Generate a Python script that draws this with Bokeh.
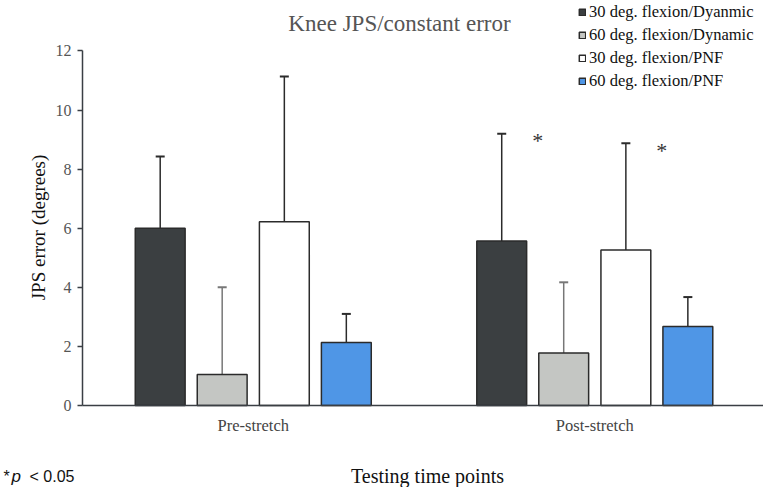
import math
from bokeh.plotting import figure
from bokeh.models import (ColumnDataSource, Range1d, Legend, LegendItem, Label,
                          FixedTicker, Whisker)
from bokeh.core.properties import value
from bokeh.embed import file_html
from bokeh.resources import INLINE

# ---- data ----
groups = ["Pre-stretch", "Post-stretch"]
series = ["30 deg. flexion/Dyanmic", "60 deg. flexion/Dynamic",
          "30 deg. flexion/PNF", "60 deg. flexion/PNF"]
means_pre = [6.0, 1.05, 6.22, 2.13]
means_post = [5.57, 1.78, 5.26, 2.67]
upper_pre = [8.43, 4.0, 11.14, 3.1]
upper_post = [9.2, 4.17, 8.88, 3.67]
sig_group = [1, 1]          # index into groups
sig_series = [0, 2]         # index into series
yticks = [0, 2, 4, 6, 8, 10, 12]

colors = ["#3b3f41", "#c4c6c3", "#ffffff", "#4f96e6"]
whisker_colors = ["#2b2b2b", "#777777", "#2b2b2b", "#2b2b2b"]
SERIF = "Liberation Serif"
SANS = "Liberation Sans"

W, H = 763, 487
p = figure(width=W, height=H, output_backend="svg", toolbar_location=None,
           x_range=Range1d(-0.2401, 1.994), y_range=Range1d(-2.776, 13.709),
           min_border=0)
p.outline_line_color = None
p.xgrid.grid_line_color = None
p.ygrid.grid_line_color = None

offsets = [-0.2725, -0.091, 0.091, 0.2725]
bar_w = 0.146
centers = [0.5, 1.5]
means = [means_pre, means_post]
uppers = [upper_pre, upper_post]

renderers = []
for si, name in enumerate(series):
    xs = [centers[g] + offsets[si] for g in range(len(groups))]
    tops = [means[g][si] for g in range(len(groups))]
    ups = [uppers[g][si] for g in range(len(groups))]
    src = ColumnDataSource(dict(x=xs, top=tops, up=ups))
    w = Whisker(base="x", lower="top", upper="up", source=src,
                line_color=whisker_colors[si], line_width=1.5)
    w.upper_head.size = 9
    w.upper_head.line_color = whisker_colors[si]
    w.upper_head.line_width = 2
    w.lower_head = None
    p.add_layout(w)
    r = p.vbar(x="x", top="top", width=bar_w, source=src, fill_color=colors[si],
               line_color="#2b2b2b", line_width=1.5)
    renderers.append(r)

# significance markers
sx = [centers[g] + offsets[s] for g, s in zip(sig_group, sig_series)]
sy = [uppers[g][s] for g, s in zip(sig_group, sig_series)]
p.text(x=sx, y=sy, text=["*"] * len(sx), x_offset=36, y_offset=7,
       text_font=value(SERIF), text_font_size="22px", text_color="#333333",
       text_align="center", text_baseline="middle")

# axes (fixed inside the frame)
p.yaxis.fixed_location = 0
p.yaxis.bounds = (0, 12)
p.yaxis.ticker = FixedTicker(ticks=yticks)
p.yaxis.axis_line_color = "#3a3f44"
p.yaxis.axis_line_width = 1.5
p.yaxis.major_tick_line_color = "#3a3f44"
p.yaxis.major_tick_line_width = 1.5
p.yaxis.major_tick_out = 5
p.yaxis.major_tick_in = 0
p.yaxis.minor_tick_line_color = None
p.yaxis.major_label_text_font = SERIF
p.yaxis.major_label_text_font_size = "16px"
p.yaxis.major_label_text_color = "#555555"
p.yaxis.major_label_standoff = 6

p.xaxis.fixed_location = 0
p.xaxis.bounds = (0, 1.994)
p.xaxis.ticker = FixedTicker(ticks=centers)
p.xaxis.major_label_overrides = {centers[i]: g for i, g in enumerate(groups)}
p.xaxis.axis_line_color = "#3a3f44"
p.xaxis.axis_line_width = 1.5
p.xaxis.major_tick_line_color = None
p.xaxis.major_tick_out = 0
p.xaxis.minor_tick_line_color = None
p.xaxis.major_label_text_font = SERIF
p.xaxis.major_label_text_font_size = "16.5px"
p.xaxis.major_label_text_color = "#444444"
p.xaxis.major_label_standoff = 11

# texts (screen units: from the frame's bottom-left corner)
p.add_layout(Label(x=38, y=H - 227, x_units="screen", y_units="screen",
                   text="JPS error (degrees)", angle=math.pi / 2,
                   text_font=SERIF, text_font_size="19px", text_color="#111111",
                   text_align="center", text_baseline="middle"))
p.add_layout(Label(x=427, y=H - 475, x_units="screen", y_units="screen",
                   text="Testing time points", text_font=SERIF,
                   text_font_size="20px", text_color="#111111",
                   text_align="center", text_baseline="alphabetic"))
p.add_layout(Label(x=399, y=H - 23, x_units="screen", y_units="screen",
                   text="Knee JPS/constant error", text_font=SERIF,
                   text_font_size="23px", text_color="#555555",
                   text_align="center", text_baseline="alphabetic"))

p.add_layout(Label(x=3, y=H - 476, x_units="screen", y_units="screen", text="*",
                   text_font=SANS, text_font_size="16px", text_color="#111111",
                   text_baseline="alphabetic"))
p.add_layout(Label(x=11, y=H - 476, x_units="screen", y_units="screen", text="p",
                   text_font=SANS, text_font_style="italic",
                   text_font_size="17px", text_color="#111111",
                   text_baseline="alphabetic"))
p.add_layout(Label(x=29, y=H - 476, x_units="screen", y_units="screen", text="< 0.05",
                   text_font=SANS, text_font_size="16px",
                   text_color="#111111", text_baseline="alphabetic"))

legend = Legend(items=[LegendItem(label=s, renderers=[r]) for s, r in zip(series, renderers)],
                location=(578, H - 91), orientation="vertical",
                label_text_font=SERIF, label_text_font_size="16.5px",
                label_text_color="#111111", glyph_width=8, glyph_height=8,
                label_standoff=3, spacing=3, padding=0, margin=0,
                border_line_color=None, background_fill_alpha=0,
                label_height=20)
p.add_layout(legend)

open("out.html", "w").write(file_html(p, INLINE))
